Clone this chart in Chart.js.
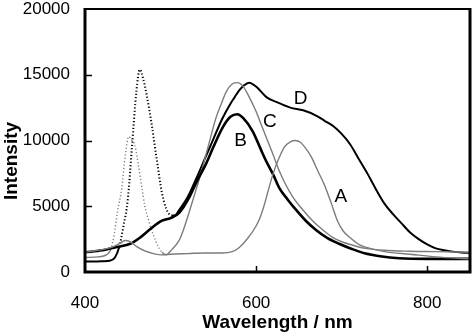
<!DOCTYPE html>
<html lang="en">
<head>
<meta charset="UTF-8">
<title>Emission spectra A-D</title>
<script src="https://cdn.jsdelivr.net/npm/chart.js"></script>
<style>
  body { margin: 0; background: #fff; }
  canvas { display: block; }
</style>
</head>
<body>
<canvas id="chart" width="474" height="336"></canvas>
<script>
// axis ticks
const xTicks = [400, 600, 800];
const yTicks = [0, 5000, 10000, 15000, 20000];

// spectra (wavelength nm / intensity)
const aWl  = [400, 410, 420, 430, 440, 447, 453, 460, 470, 480, 490, 500, 520, 540, 560, 572, 580, 590, 600, 605, 610, 615, 620, 627, 633, 640, 646, 652, 658, 665, 672, 680, 688, 695, 702, 710, 720, 730, 750, 780, 810, 850];
const aInt = [1500, 1600, 1700, 1850, 2150, 2400, 2300, 1950, 1600, 1400, 1300, 1350, 1400, 1450, 1450, 1550, 1850, 2550, 3500, 4200, 5200, 6400, 7500, 8700, 9500, 9900, 10000, 9850, 9400, 8700, 7700, 6600, 5200, 3900, 3100, 2600, 2100, 1850, 1550, 1350, 1150, 1000];

const bWl  = [400, 420, 437, 453, 465, 476, 490, 500, 510, 522, 530, 542, 550, 561, 570, 578, 585, 596, 605, 612, 620, 627, 637, 647, 658, 670, 683, 697, 712, 728, 745, 767, 800, 850];
const bInt = [1500, 1650, 1900, 2150, 2650, 3250, 3900, 4100, 4500, 5700, 6800, 8300, 9500, 11000, 11800, 12000, 11700, 10700, 9400, 8400, 7400, 6400, 5500, 4700, 3900, 3200, 2600, 2150, 1750, 1400, 1200, 1050, 1000, 1000];

const cWl  = [400, 415, 425, 430, 434, 438, 443, 447, 451, 455, 458, 462, 466, 470, 475, 480, 485, 490, 495, 500, 510, 515, 522, 530, 535, 545, 553, 560, 565, 572, 578, 585, 592, 600, 606, 612, 620, 627, 635, 643, 655, 666, 678, 689, 700, 715, 728, 750, 780, 810, 850];
const cInt = [1100, 1150, 1300, 1700, 2800, 4600, 6400, 8800, 10300, 10000, 9700, 8300, 6600, 5000, 3800, 2800, 2000, 1500, 1300, 1600, 2400, 3200, 4600, 6300, 7400, 9800, 11700, 12900, 13700, 14300, 14400, 14100, 13300, 12200, 11200, 10200, 8900, 7700, 6600, 5700, 4700, 3900, 3200, 2650, 2300, 2000, 1800, 1650, 1580, 1550, 1500];

const dWl  = [400, 410, 420, 430, 435, 440, 445, 450, 455, 460, 464, 468, 472, 478, 484, 490, 495, 501, 505, 510, 520, 530, 540, 550, 560, 570, 575, 580, 585, 592, 600, 612, 625, 640, 655, 670, 680, 690, 700, 710, 720, 730, 740, 750, 760, 770, 780, 790, 800, 810, 820, 830, 840, 850];
const dInt = [800, 800, 820, 880, 1100, 1900, 3500, 5500, 9600, 13700, 15400, 14700, 13500, 11200, 8500, 6000, 4800, 4300, 4300, 4700, 5700, 7100, 8600, 10100, 11600, 12800, 13300, 13800, 14150, 14400, 14100, 13300, 12900, 12500, 12300, 11900, 11500, 11100, 10500, 9700, 8600, 7500, 6300, 5200, 4400, 3700, 3000, 2500, 2100, 1800, 1650, 1550, 1480, 1450];

// curve letters, anchored in data units
const curveNames = ['A', 'B', 'C', 'D'];
const nameWl  = [699, 582, 616, 652];
const nameInt = [5700, 10000, 11400, 13150];

const toPts = (xs, ys) => xs.map((v, i) => ({ x: v, y: ys[i] }));

// dotted stretch around the sharp blue peaks
const dotted = (lo, hi) => ctx =>
  (ctx.p0.parsed.x >= lo && ctx.p1.parsed.x <= hi) ? [1.2, 2.2] : undefined;

const GRAY = '#7c7c7c';
const FONT = '"Liberation Sans", Arial, sans-serif';

const frame = {
  id: 'frame',
  afterDraw(chart) {
    const { ctx, chartArea: a, scales: { x, y } } = chart;
    ctx.save();
    ctx.strokeStyle = '#000';
    ctx.lineCap = 'butt';

    // tick marks pointing inwards
    ctx.lineWidth = 1.5;
    ctx.beginPath();
    yTicks.slice(1, -1).forEach(v => {
      const py = Math.round(y.getPixelForValue(v)) + 0.5;
      ctx.moveTo(a.left, py);
      ctx.lineTo(a.left + 7, py);
    });
    xTicks.slice(1).forEach(v => {
      const px = Math.round(x.getPixelForValue(v)) + 0.5;
      ctx.moveTo(px, a.bottom);
      ctx.lineTo(px, a.bottom - 6);
    });
    ctx.stroke();

    // frame
    ctx.lineWidth = 2;
    ctx.beginPath();
    ctx.moveTo(a.left, a.top);
    ctx.lineTo(a.right, a.top);
    ctx.stroke();
    ctx.lineWidth = 3;
    ctx.beginPath();
    ctx.moveTo(a.left, a.top - 1);
    ctx.lineTo(a.left, a.bottom);
    ctx.lineTo(a.right, a.bottom);
    ctx.lineTo(a.right, a.top - 1);
    ctx.stroke();

    // curve letters
    ctx.fillStyle = '#000';
    ctx.font = '19px ' + FONT;
    ctx.textAlign = 'center';
    ctx.textBaseline = 'middle';
    curveNames.forEach((n, i) => {
      ctx.fillText(n, x.getPixelForValue(nameWl[i]), y.getPixelForValue(nameInt[i]));
    });

    // y axis title
    ctx.font = 'bold 19px ' + FONT;
    ctx.translate(12, 161);
    ctx.rotate(-Math.PI / 2);
    ctx.fillText('Intensity', 0, 0);
    ctx.restore();
  }
};

new Chart(document.getElementById('chart'), {
  type: 'line',
  data: {
    datasets: [
      { label: 'A', data: toPts(aWl, aInt), borderColor: GRAY, borderWidth: 1.4 },
      { label: 'B', data: toPts(bWl, bInt), borderColor: '#000', borderWidth: 2.6 },
      { label: 'C', data: toPts(cWl, cInt), borderColor: GRAY, borderWidth: 1.4,
        segment: { borderDash: dotted(428, 493) } },
      { label: 'D', data: toPts(dWl, dInt), borderColor: '#000', borderWidth: 2,
        segment: { borderDash: dotted(438, 501) } }
    ]
  },
  options: {
    responsive: false,
    animation: false,
    events: [],
    layout: { padding: { top: 9, right: 4, left: 0, bottom: 0 } },
    elements: {
      point: { radius: 0 },
      line: { cubicInterpolationMode: 'monotone', fill: false }
    },
    plugins: { legend: { display: false }, tooltip: { enabled: false } },
    scales: {
      x: {
        type: 'linear',
        min: 400,
        max: 850,
        grid: { display: false, drawTicks: false },
        border: { display: false },
        afterBuildTicks: s => { s.ticks = xTicks.map(v => ({ value: v })); },
        afterFit: s => { s.height = 64; s.paddingLeft = 0; s.paddingRight = 0; },
        ticks: {
          color: '#000',
          padding: 21,
          maxRotation: 0,
          callback: v => String(v),
          font: { family: FONT, size: 17 }
        },
        title: {
          display: true,
          text: 'Wavelength / nm',
          color: '#000',
          padding: { top: 0, bottom: 2 },
          font: { family: FONT, size: 19, weight: 'bold' }
        }
      },
      y: {
        min: 0,
        max: 20000,
        grid: { display: false, drawTicks: false },
        border: { display: false },
        afterBuildTicks: s => { s.ticks = yTicks.map(v => ({ value: v })); },
        afterFit: s => { s.width = 85; s.paddingTop = 0; s.paddingBottom = 0; },
        ticks: {
          color: '#000',
          padding: 15,
          callback: v => String(v),
          font: { family: FONT, size: 17 }
        }
      }
    }
  },
  plugins: [frame]
});
</script>
</body>
</html>
